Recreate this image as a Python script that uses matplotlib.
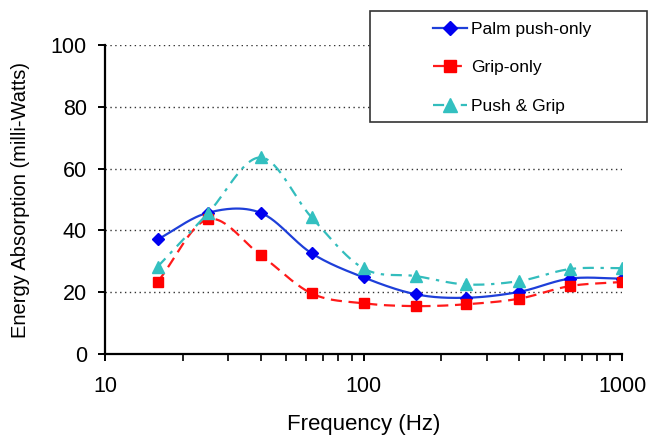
import numpy as np
import matplotlib

matplotlib.use("Agg")
import matplotlib.pyplot as plt
from matplotlib.patches import Rectangle
from matplotlib.ticker import FixedLocator, FixedFormatter, NullFormatter, LogLocator

plt.rcParams["font.family"] = ["Liberation Sans", "DejaVu Sans"]

freq = [16, 25, 40, 63, 100, 160, 250, 400, 630, 1000]
palm_push = [37.1, 45.7, 45.7, 32.6, 24.8, 19.3, 18.2, 20.1, 24.4, 24.4]
grip_only = [23.4, 43.6, 32.0, 19.6, 16.4, 15.5, 16.1, 17.9, 22.0, 23.3]
push_grip = [28.3, 45.5, 63.6, 44.2, 27.7, 25.2, 22.5, 23.6, 27.5, 27.8]

W, H = 650, 437


def smooth(xs, ys, n=30):
    # Catmull-Rom through the points in log-x space (Excel-like smoothed line)
    lx = np.log10(xs)
    ys = np.asarray(ys, float)
    px = np.concatenate([[2 * lx[0] - lx[1]], lx, [2 * lx[-1] - lx[-2]]])
    py = np.concatenate([[2 * ys[0] - ys[1]], ys, [2 * ys[-1] - ys[-2]]])
    out_x, out_y = [], []
    t = np.linspace(0, 1, n, endpoint=False)
    for i in range(1, len(px) - 2):
        for p, out in ((px, out_x), (py, out_y)):
            p0, p1, p2, p3 = p[i - 1], p[i], p[i + 1], p[i + 2]
            out.extend(0.5 * (2 * p1 + (-p0 + p2) * t
                              + (2 * p0 - 5 * p1 + 4 * p2 - p3) * t ** 2
                              + (-p0 + 3 * p1 - 3 * p2 + p3) * t ** 3))
    out_x.append(lx[-1])
    out_y.append(ys[-1])
    return 10 ** np.array(out_x), np.array(out_y)


fig = plt.figure(figsize=(W / 100, H / 100), dpi=100)
ax = fig.add_axes([105 / W, 1 - 354 / H, 517 / W, 309 / H])

series = [
    (palm_push, "Palm push-only", "#1E3FD9", "#0000F0", "D", "-", 6.5),
    (grip_only, "Grip-only", "#FF1A1A", "#FF0000", "s", (0, (5, 3)), 7.5),
    (push_grip, "Push & Grip", "#33BDBD", "#33C0C0", "^", (0, (5, 3, 1.5, 3)), 8.5),
]
for vals, label, lc, mc, mk, ls, ms in series:
    sx, sy = smooth(freq, vals)
    ax.plot(sx, sy, color=lc, linestyle=ls, linewidth=1.6, zorder=2)
    ax.plot(freq, vals, linestyle="none", marker=mk, color=mc, markersize=ms, zorder=3)
    ax.plot([], [], color=lc, linestyle=ls, linewidth=1.6, marker=mk, markerfacecolor=mc,
            markeredgecolor=mc, markersize=ms + 1, label=label)

ax.set_xscale("log")
ax.set_xlim(10, 1000)
ax.set_ylim(0, 100)
ax.set_yticks([0, 20, 40, 60, 80, 100])
ax.xaxis.set_major_locator(FixedLocator([10, 100, 1000]))
ax.xaxis.set_major_formatter(FixedFormatter(["10", "100", "1000"]))
ax.xaxis.set_minor_locator(LogLocator(base=10, subs=np.arange(2, 10)))
ax.xaxis.set_minor_formatter(NullFormatter())

for y in [20, 40, 60, 80, 100]:
    ax.axhline(y, color="#333333", linestyle=(0, (1, 2.5)), linewidth=1.0, zorder=1)

for side in ["top", "right"]:
    ax.spines[side].set_visible(False)
for side in ["left", "bottom"]:
    ax.spines[side].set_linewidth(1.6)
ax.tick_params(axis="both", which="major", direction="out", length=5, width=1.4)
ax.tick_params(axis="y", which="major", labelsize=15.5, pad=8)
ax.tick_params(axis="x", which="major", labelsize=15.5, pad=11)
ax.tick_params(axis="x", which="minor", direction="out", length=5, width=1.2)

ax.set_xlabel("Frequency (Hz)", fontsize=16, labelpad=12)
ax.set_ylabel("Energy Absorption (milli-Watts)", fontsize=14.5, labelpad=15)

# legend box drawn on the figure, entries placed inside it
fig.patches.append(Rectangle((370 / W, 1 - 122 / H), 277 / W, 111 / H, transform=fig.transFigure,
                             facecolor="white", edgecolor="#333333", linewidth=1.2, zorder=0))
leg = fig.legend(loc="upper left", bbox_to_anchor=(433 / W, 1 - 22 / H), ncol=1,
                 fontsize=12.5, frameon=False, borderpad=0, borderaxespad=0,
                 labelspacing=1.33, handlelength=1.95, handletextpad=0.25)

fig.savefig("out.png", dpi=100)
